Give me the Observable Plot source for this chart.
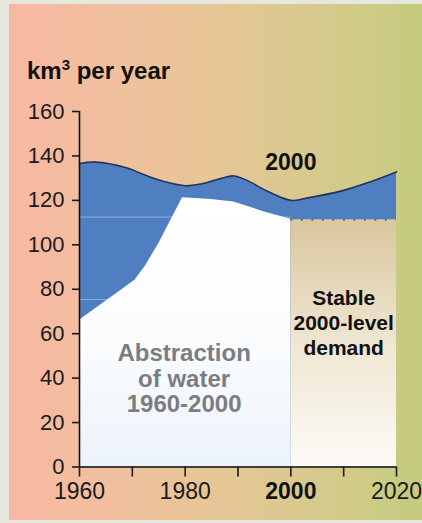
<!DOCTYPE html>
<html>
<head>
<meta charset="utf-8">
<script src="https://cdn.jsdelivr.net/npm/d3@7"></script>
<script src="https://cdn.jsdelivr.net/npm/@observablehq/plot@0.6"></script>
<style>
  html, body { margin: 0; padding: 0; background: #e6e7dd; }
  #wrap { position: relative; width: 422px; height: 523px; overflow: hidden; }
  #bg { position: absolute; left: 9px; top: 4px; right: 0; bottom: 3px;
        background: linear-gradient(to right, #f7b8a2 0%, #f0c09d 28%, #e6c696 50%, #d8c98e 72%, #cdcb86 88%, #c3cb7d 100%); }
  #chart { position: absolute; left: 0; top: 0; }
</style>
</head>
<body>
<div id="wrap"><div id="bg"></div><div id="chart"></div></div>
<script>
// Available water (top of blue area), km3 per year
const topYears  = [1960, 1963, 1968.7, 1972.5, 1976.3, 1980, 1983, 1986.7, 1989.2, 1991.7, 1995.5, 2000, 2003, 2010, 2015, 2020];
const topValues = [136.6, 137.2, 134.8, 131.3, 128.3, 126.6, 127.4, 129.8, 131, 129, 124.2, 120, 121, 124.5, 128.3, 132.8];
// Abstraction of water 1960-2000
const absYears  = [1960, 1970.5, 1972.5, 1975, 1977.3, 1979.5, 1985, 1989.2, 1995, 2000];
const absValues = [66, 84, 90.5, 100.5, 111, 121.2, 120.4, 119.3, 114.8, 111.5];
// Stable 2000-level demand
const stableYears = [2000, 2020];
const stableLevel = 111.3;
// faint lines visible inside the blue area
const faintLines = [112.5, 75.4];
// ticks
const yTicks = [0, 20, 40, 60, 80, 100, 120, 140, 160];
const xTicks = [1960, 1970, 1980, 1990, 2000, 2010, 2020];
const xLabels = [1960, 1980, 2020];
const xBoldLabels = [2000];
// annotations
const notes = [
  {x: 2000, y: 137.3, text: "2000", fill: "#111", size: 23, lh: 1.1},
  {x: 1979.8, y: 39.9, text: "Abstraction\nof water\n1960-2000", fill: "#7b7d81", size: 24, lh: 1.07},
  {x: 2010, y: 65.2, text: "Stable\n2000-level\ndemand", fill: "#111", size: 21, lh: 1.17}
];

const topData = topYears.map((x, i) => ({x, y: topValues[i]}));
const absData = absYears.map((x, i) => ({x, y: absValues[i]}));
const FONT = '"Liberation Sans", Arial, Helvetica, sans-serif';

const plot = Plot.plot({
  width: 422,
  height: 523,
  marginLeft: 79,
  marginRight: 26,
  marginTop: 111,
  marginBottom: 56.5,
  style: {background: "transparent", fontFamily: FONT, color: "#1b1b1b", overflow: "visible"},
  x: {domain: [1960, 2020]},
  y: {domain: [0, 160]},
  marks: [
    Plot.areaY(topData, {x: "x", y: "y", curve: "catmull-rom", fill: "#4f7fc0"}),
    Plot.ruleY(faintLines, {x1: 1960, x2: 2000, stroke: "#8db0e0", strokeWidth: 1}),
    Plot.areaY(absData, {x: "x", y: "y", curve: "linear", fill: "url(#absGrad)"}),
    Plot.areaY(stableYears, {x: d => d, y: stableLevel, fill: "url(#stableGrad)"}),
    Plot.ruleY([stableLevel], {x1: 2000, x2: 2020, stroke: "#3b5f97", strokeWidth: 1.5, strokeDasharray: "2,8.5"}),
    Plot.lineY(topData, {x: "x", y: "y", curve: "catmull-rom", stroke: "#24375a", strokeWidth: 1.6}),
    Plot.ruleY([0], {stroke: "#111", strokeWidth: 1.6}),
    Plot.ruleX([1960], {stroke: "#111", strokeWidth: 1.6}),
    Plot.axisY({ticks: yTicks, tickSize: 7, tickPadding: 8, fontSize: 22, strokeWidth: 1.6, label: null}),
    Plot.axisX({ticks: xTicks, tickSize: 10, strokeWidth: 1.6, tickFormat: () => "", label: null}),
    Plot.text(xLabels, {x: d => d, frameAnchor: "bottom", dy: 31.5, fontSize: 23, fill: "#1b1b1b", text: d => String(d)}),
    Plot.text(xBoldLabels, {x: d => d, frameAnchor: "bottom", dy: 31.5, fontSize: 23, fontWeight: "bold", fill: "#111", text: d => String(d)}),
    ...notes.map(n => Plot.text([n], {x: "x", y: "y", text: "text", fill: n.fill, fontSize: n.size, fontWeight: "bold", lineHeight: n.lh}))
  ]
});

const svg = d3.select(plot);
const defs = svg.insert("defs", ":first-child");
const g1 = defs.append("linearGradient").attr("id", "absGrad").attr("x1", 0).attr("y1", 0).attr("x2", 0).attr("y2", 1);
g1.append("stop").attr("offset", "0%").attr("stop-color", "#ffffff");
g1.append("stop").attr("offset", "55%").attr("stop-color", "#fafcfe");
g1.append("stop").attr("offset", "100%").attr("stop-color", "#edf3fb");
const g2 = defs.append("linearGradient").attr("id", "stableGrad").attr("x1", 0).attr("y1", 0).attr("x2", 0).attr("y2", 1);
g2.append("stop").attr("offset", "0%").attr("stop-color", "#d9c69c");
g2.append("stop").attr("offset", "50%").attr("stop-color", "#efe6d2");
g2.append("stop").attr("offset", "100%").attr("stop-color", "#fdfbf6");

// Title
const t = svg.append("text").attr("x", 27).attr("y", 79).attr("text-anchor", "start")
  .attr("font-family", FONT).attr("font-size", 24).attr("font-weight", "bold").attr("fill", "#111");
t.append("tspan").text("km");
t.append("tspan").attr("font-size", 15).attr("dy", -9).text("3");
t.append("tspan").attr("dy", 9).text(" per year");

document.getElementById("chart").appendChild(plot);
</script>
</body>
</html>
